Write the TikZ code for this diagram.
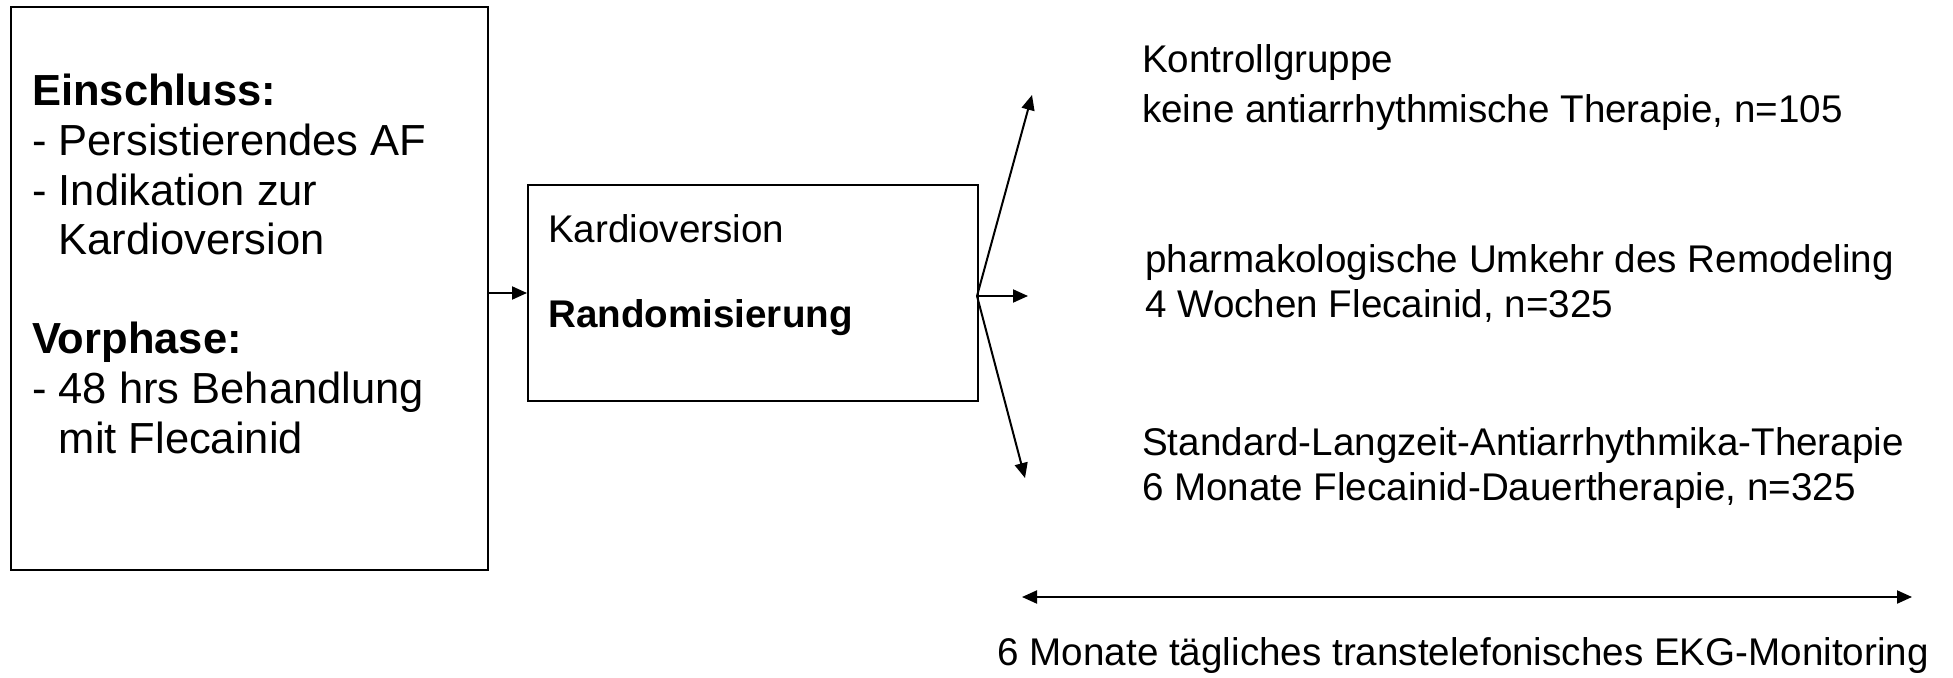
\documentclass[tikz,border=0pt]{standalone}
\usepackage{fontspec}
\setmainfont{Liberation Sans}
\usetikzlibrary{arrows.meta}

\begin{document}
\begin{tikzpicture}[x=1pt,y=-1pt,
  box/.style={draw=black, line width=2pt, fill=white, inner sep=0pt, anchor=north west},
  bigtxt/.style={anchor=base west, inner sep=0pt, font=\fontsize{43.5}{50}\selectfont},
  txt/.style={anchor=base west, inner sep=0pt, font=\fontsize{38.6}{44}\selectfont},
  arr/.style={line width=2pt, -{Triangle[length=15pt,width=13pt]}},
  darr/.style={line width=2pt, {Triangle[length=15pt,width=13pt]}-{Triangle[length=15pt,width=13pt]}}]
  \useasboundingbox[fill=white] (0,0) rectangle (1953,677);

  % inclusion box
  \node[box, minimum width=477pt, minimum height=563pt] (incl) at (10,6) {};
  \node[bigtxt] (l1) at (32,105) {\bfseries Einschluss:};
  \node[bigtxt] (l2) at (32,155) {- Persistierendes AF};
  \node[bigtxt] (l3) at (32,205) {- Indikation zur};
  \node[bigtxt] (l4) at (32,254) {\hphantom{- }Kardioversion};
  \node[bigtxt] (l5) at (32,353) {\bfseries Vorphase:};
  \node[bigtxt] (l6) at (32,403) {- 48 hrs Behandlung};
  \node[bigtxt] (l7) at (32,453) {\hphantom{- }mit Flecainid};

  % cardioversion / randomisation box
  \node[box, minimum width=450pt, minimum height=216pt] (rand) at (527,184) {};
  \node[txt] (k1) at (548,242) {Kardioversion};
  \node[txt] (k2) at (548,327) {\bfseries Randomisierung};

  \draw[arr] (incl.east |- rand.west) -- (rand.west);

  % three study arms
  \coordinate (fan) at (977,296);
  \coordinate (t1) at (1032,95);
  \coordinate (t2) at (1028,296);
  \coordinate (t3) at (1025,478);
  \draw[arr] (fan) -- (t1);
  \draw[arr] (fan) -- (t2);
  \draw[arr] (fan) -- (t3);

  \node[txt] (a1) at (1142,73) {Kontrollgruppe};
  \node[txt] (a2) at (1142,122) {keine antiarrhythmische Therapie, n=105};
  \node[txt] (b1) at (1145,272) {pharmakologische Umkehr des Remodeling};
  \node[txt] (b2) at (1145,317) {4 Wochen Flecainid, n=325};
  \node[txt] (c1) at (1142,455) {Standard-Langzeit-Antiarrhythmika-Therapie};
  \node[txt] (c2) at (1142,500) {6 Monate Flecainid-Dauertherapie, n=325};

  % follow-up period
  \coordinate (m1) at (1022,597);
  \coordinate (m2) at (1912,597);
  \draw[darr] (m1) -- (m2);
  \node[txt, anchor=base east] (mon) at (1929,665) {6 Monate tägliches transtelefonisches EKG-Monitoring};
\end{tikzpicture}
\end{document}
